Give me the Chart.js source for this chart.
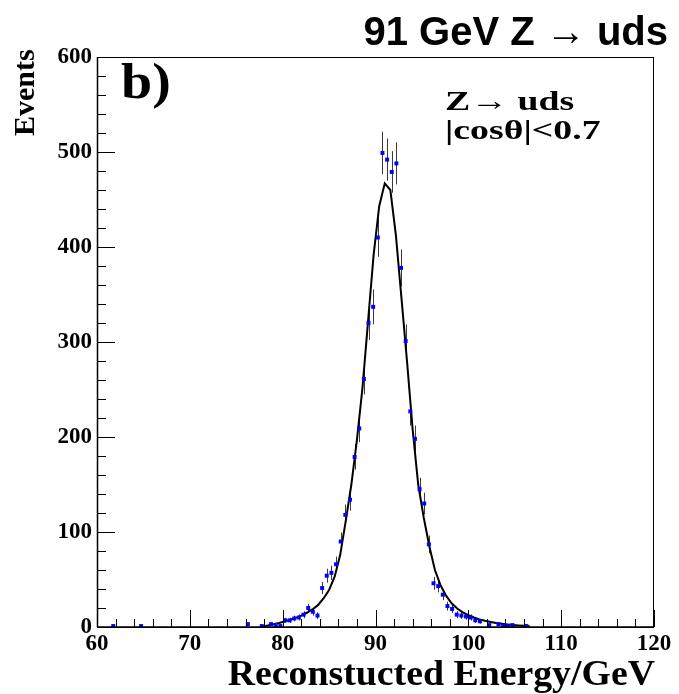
<!DOCTYPE html>
<html>
<head>
<meta charset="utf-8">
<script src="https://cdn.jsdelivr.net/npm/chart.js@4.4.0/dist/chart.umd.min.js"></script>
<style>
  html, body { margin: 0; padding: 0; background: #ffffff; }
  canvas { display: block; }
</style>
</head>
<body>
<canvas id="chart" width="679" height="694"></canvas>
<script>
// Histogram bin centres (GeV) and event counts per 0.5 GeV bin
const energyBins = [61.75, 64.75, 76.25, 77.75, 78.75, 79.25, 79.75, 80.25, 80.75, 81.25,
  81.75, 82.25, 82.75, 83.25, 83.75, 84.25, 84.75, 85.25, 85.75, 86.25,
  86.75, 87.25, 87.75, 88.25, 88.75, 89.25, 89.75, 90.25, 90.75, 91.25,
  91.75, 92.25, 92.75, 93.25, 93.75, 94.25, 94.75, 95.25, 95.75, 96.25,
  96.75, 97.25, 97.75, 98.25, 98.75, 99.25, 99.75, 100.25, 100.75, 101.25,
  102.25, 103.25, 103.75, 104.25, 104.75, 106.25];
const eventCounts = [1, 1, 3, 1, 3, 2, 1, 7, 7, 9,
  10, 13, 20, 16, 12, 41, 54, 57, 66, 90,
  118, 134, 179, 209, 261, 320, 337, 410, 499, 492,
  479, 488, 378, 301, 227, 198, 145, 130, 87, 46,
  43, 34, 22, 19, 13, 12, 11, 10, 7, 6,
  2, 3, 1, 1, 2, 1];

// Fitted line shape, sampled every 0.6 GeV
const fitEnergy = [77.8, 78.4, 79.0, 79.6, 80.2, 80.8, 81.4, 82.0, 82.6, 83.2,
  83.8, 84.4, 85.0, 85.6, 86.2, 86.8, 87.4, 88.0, 88.6, 89.2,
  89.8, 90.4, 91.0, 91.6, 92.2, 92.8, 93.4, 94.0, 94.6, 95.2,
  95.8, 96.4, 97.0, 97.6, 98.2, 98.8, 99.4, 100.0, 100.6, 101.2,
  101.8, 102.4, 103.0, 103.6, 104.2, 104.8, 105.4, 106.0, 106.6];
const fitEvents = [0.5, 1.5, 2.8, 4.2, 5.8, 7.6, 9.6, 12, 15, 18.5,
  23, 30, 39, 53, 76, 112, 150, 197, 252, 322,
  392, 443, 467, 460, 412, 346, 279, 208, 150, 115,
  85, 60, 44, 33, 25, 19.5, 15.5, 12.5, 10, 8,
  6.5, 5.2, 4.2, 3.4, 2.7, 2.1, 1.6, 1.2, 0.8];

// Axis tick labels
const xTickLabels = [60, 70, 80, 90, 100, 110, 120];
const yTickLabels = [0, 100, 200, 300, 400, 500, 600];

// Frame placement on the canvas
const FRAME = { left: 97, top: 57, right: 654, bottom: 627 };
const SERIF = '"Liberation Serif", "Times New Roman", serif';
const SANS = '"Liberation Sans", Arial, sans-serif';

// Vertical statistical error bars (sqrt N) behind the markers
const errorBars = {
  id: 'errorBars',
  beforeDatasetsDraw(chart) {
    const { ctx, scales: { x, y } } = chart;
    ctx.save();
    ctx.strokeStyle = '#3a3a3a';
    ctx.lineWidth = 1;
    energyBins.forEach((e, i) => {
      const n = eventCounts[i];
      const s = Math.sqrt(n);
      const px = Math.round(x.getPixelForValue(e)) + 0.5;
      ctx.beginPath();
      ctx.moveTo(px, y.getPixelForValue(Math.max(0, n - s)));
      ctx.lineTo(px, y.getPixelForValue(n + s));
      ctx.stroke();
    });
    ctx.restore();
  }
};

// Frame and inward-pointing tick marks
const frameTicks = {
  id: 'frameTicks',
  afterDatasetsDraw(chart) {
    const { ctx, chartArea: a, scales: { x, y } } = chart;
    ctx.save();
    ctx.strokeStyle = '#000';
    ctx.lineWidth = 1;
    ctx.strokeRect(a.left + 0.5, a.top + 0.5, a.right - a.left - 1, a.bottom - a.top);
    ctx.lineWidth = 1.5;
    ctx.beginPath();
    ctx.moveTo(a.left, a.bottom);
    ctx.lineTo(a.right, a.bottom);
    ctx.moveTo(a.left + 0.5, a.bottom);
    ctx.lineTo(a.left + 0.5, a.top);
    ctx.stroke();
    ctx.lineWidth = 1;
    ctx.beginPath();
    for (let v = 60; v <= 120; v += 2) {
      const px = Math.round(x.getPixelForValue(v)) + 0.5;
      const len = (v % 10 === 0) ? 17 : 8;
      ctx.moveTo(px, a.bottom);
      ctx.lineTo(px, a.bottom - len);
    }
    for (let v = 0; v <= 600; v += 20) {
      const py = Math.round(y.getPixelForValue(v)) + 0.5;
      const len = (v % 100 === 0) ? 18 : 9;
      ctx.moveTo(a.left, py);
      ctx.lineTo(a.left + len, py);
    }
    ctx.stroke();
    ctx.restore();
  }
};

// Draws text with an optional horizontal stretch
function stretchedText(ctx, text, x, y, sx) {
  ctx.save();
  ctx.translate(x, y);
  ctx.scale(sx, 1);
  ctx.fillText(text, 0, 0);
  ctx.restore();
}

// Titles and annotations
const labels = {
  id: 'labels',
  afterDraw(chart) {
    const { ctx } = chart;
    ctx.save();
    ctx.fillStyle = '#000';
    ctx.textBaseline = 'alphabetic';

    ctx.font = 'bold 40px ' + SANS;
    ctx.textAlign = 'right';
    ctx.fillText('91 GeV Z \u2192 uds', 668, 45);

    ctx.textAlign = 'left';
    ctx.font = 'bold 50px ' + SERIF;
    stretchedText(ctx, 'b)', 121, 98, 1.12);

    ctx.font = 'bold 28px ' + SERIF;
    stretchedText(ctx, 'Z\u2192 uds', 445, 110, 1.35);
    stretchedText(ctx, '|cos\u03b8|<0.7', 445, 139, 1.35);

    ctx.font = 'bold 36px ' + SERIF;
    ctx.textAlign = 'right';
    stretchedText(ctx, 'Reconstucted Energy/GeV', 655, 685, 1.05);

    ctx.font = 'bold 30px ' + SERIF;
    ctx.translate(34, 136);
    ctx.rotate(-Math.PI / 2);
    ctx.textAlign = 'left';
    ctx.fillText('Events', 0, 0);
    ctx.restore();
  }
};

const tickFont = { family: SERIF, weight: 'bold', size: 23 };

new Chart(document.getElementById('chart').getContext('2d'), {
  type: 'scatter',
  data: {
    datasets: [
      {
        type: 'line',
        data: fitEnergy.map((e, i) => ({ x: e, y: fitEvents[i] })),
        borderColor: '#000000',
        borderWidth: 2,
        pointRadius: 0,
        tension: 0,
        fill: false,
        order: 2
      },
      {
        type: 'scatter',
        data: energyBins.map((e, i) => ({ x: e, y: eventCounts[i] })),
        pointStyle: 'rect',
        pointRadius: 2.8,
        backgroundColor: '#0000ff',
        borderColor: '#0000ff',
        borderWidth: 0,
        order: 1
      }
    ]
  },
  options: {
    responsive: false,
    animation: false,
    devicePixelRatio: 1,
    layout: { padding: { left: 0, top: FRAME.top, right: 679 - FRAME.right, bottom: 0 } },
    plugins: { legend: { display: false }, tooltip: { enabled: false } },
    scales: {
      x: {
        type: 'linear',
        min: 60, max: 120,
        afterFit(s) { s.height = 694 - FRAME.bottom; },
        afterBuildTicks(s) { s.ticks = xTickLabels.map(v => ({ value: v })); },
        grid: { display: false, drawTicks: false },
        border: { display: false },
        ticks: { autoSkip: false, maxRotation: 0, padding: 3, color: '#000', font: tickFont }
      },
      y: {
        type: 'linear',
        min: 0, max: 600,
        afterFit(s) { s.width = FRAME.left; },
        afterBuildTicks(s) { s.ticks = yTickLabels.map(v => ({ value: v })); },
        grid: { display: false, drawTicks: false },
        border: { display: false },
        ticks: { autoSkip: false, padding: 5, color: '#000', font: tickFont }
      }
    }
  },
  plugins: [errorBars, frameTicks, labels]
});
</script>
</body>
</html>
